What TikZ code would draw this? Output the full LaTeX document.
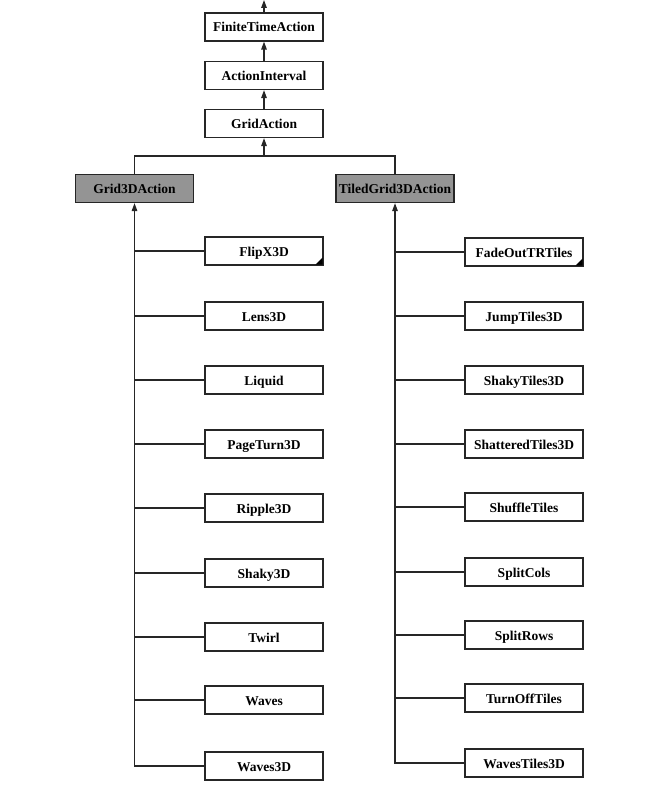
\documentclass[tikz,border=0pt]{standalone}
\usepackage{fontspec}
\setmainfont{Liberation Serif}
\usetikzlibrary{arrows.meta}
\begin{document}
\begin{tikzpicture}[x=1pt,y=-1pt,
  cls/.style={draw=black!85,line width=1.2pt,fill=white,minimum width=118pt,minimum height=28pt,inner sep=0pt,text height=10pt,text depth=0pt,font=\fontsize{13.5}{14}\selectfont\bfseries},
  abs/.style={cls,fill=black!42},
  conn/.style={draw=black!85,line width=1.3pt},
  inh/.style={conn,-{Triangle[length=8pt,width=5.5pt]}},
  corner/.style={fill=black}]
\useasboundingbox (0,0) rectangle (662,794);
\node[cls] (fta) at (264,27) {FiniteTimeAction};
\node[cls] (ai) at (264,75.5) {ActionInterval};
\node[cls] (ga) at (264,123.5) {GridAction};
\node[abs] (g3) at (134.5,188.5) {Grid3DAction};
\node[abs] (t3) at (395,188.5) {TiledGrid3DAction};
\coordinate (top) at (264,0);
\coordinate (junc) at (264,156);
\draw[inh] (fta.north) -- (top);
\draw[inh] (ai) -- (fta);
\draw[inh] (ga) -- (ai);
\draw[conn] (g3.north) |- (junc) -| (t3.north);
\draw[inh] (junc) -- (ga);
% left column
\foreach \n/\t/\yy in {l1/FlipX3D/251,l2/Lens3D/316,l3/Liquid/380,l4/PageTurn3D/444,l5/Ripple3D/508,l6/Shaky3D/573,l7/Twirl/637,l8/Waves/700,l9/Waves3D/766}{
  \node[cls] (\n) at (264,\yy) {\t};
}
\foreach \n/\t/\yy in {r1/FadeOutTRTiles/252,r2/JumpTiles3D/316,r3/ShakyTiles3D/380,r4/ShatteredTiles3D/444,r5/ShuffleTiles/507,r6/SplitCols/572,r7/SplitRows/635,r8/TurnOffTiles/698,r9/WavesTiles3D/763}{
  \node[cls] (\n) at (524,\yy) {\t};
}
\draw[inh] (l9.west) -| (g3.south);
\foreach \n in {l1,l2,l3,l4,l5,l6,l7,l8}{\draw[conn] (\n.west) -- (\n.west -| g3.south);}
\draw[inh] (r9.west) -| (t3.south);
\foreach \n in {r1,r2,r3,r4,r5,r6,r7,r8}{\draw[conn] (\n.west) -- (\n.west -| t3.south);}
\fill[corner] ([shift={(-1,-1)}]l1.south east) -- ++(0,-7) -- ++(-7,7) -- cycle;
\fill[corner] ([shift={(-1,-1)}]r1.south east) -- ++(0,-7) -- ++(-7,7) -- cycle;
\end{tikzpicture}
\end{document}
